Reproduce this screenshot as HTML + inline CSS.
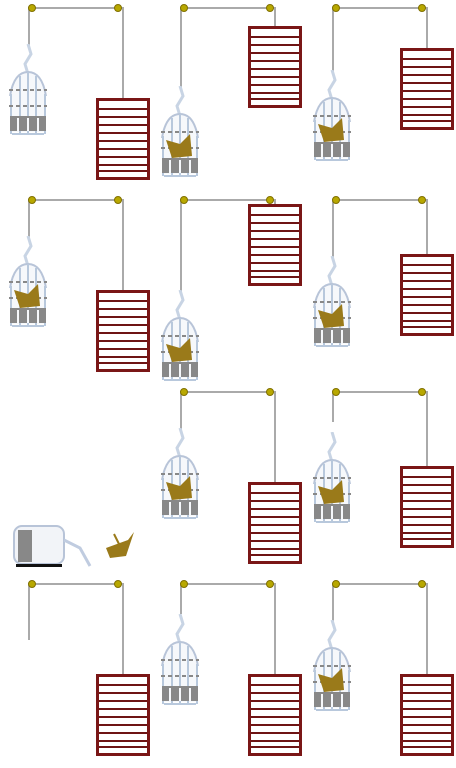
<!DOCTYPE html>
<html><head><style>html,body{margin:0;padding:0;background:#fff;width:456px;height:768px;overflow:hidden}</style></head>
<body>
<svg width="456" height="768" xmlns="http://www.w3.org/2000/svg">
<defs>
<symbol id="cage" viewBox="0 0 44 95" width="44" height="95">
 <path d="M22 0 L25 10 L19 20 L22 30" stroke="#c8d4e4" stroke-width="3" fill="none"/>
 <path d="M4 52 Q8 28 22 28 Q36 28 40 52" stroke="#b8c4d8" stroke-width="2" fill="#f6f8fb"/>
 <rect x="4" y="50" width="36" height="38" fill="#f6f8fb"/>
 <g stroke="#b8c8dc" stroke-width="2">
  <line x1="5" y1="50" x2="5" y2="90"/><line x1="14" y1="32" x2="14" y2="90"/><line x1="22" y1="28" x2="22" y2="90"/>
  <line x1="30" y1="32" x2="30" y2="90"/><line x1="39" y1="50" x2="39" y2="90"/>
 </g>
 <g stroke="#888" stroke-width="2" stroke-dasharray="4 3">
  <line x1="3" y1="46" x2="41" y2="46"/><line x1="3" y1="62" x2="41" y2="62"/>
 </g>
 <rect x="4" y="72" width="36" height="15" fill="#888"/>
 <g stroke="#f6f8fb" stroke-width="2"><line x1="12" y1="74" x2="12" y2="87"/><line x1="22" y1="74" x2="22" y2="87"/><line x1="32" y1="74" x2="32" y2="87"/></g>
 <rect x="6" y="89" width="32" height="2" fill="#b8c8dc"/>
</symbol>
<symbol id="bird" viewBox="0 0 44 95" width="44" height="95">
 <use href="#cage"/>
 <path d="M8 54 L22 58 L32 48 L34 70 L14 72 Z" fill="#9a7a1a"/>
</symbol>
<symbol id="box" viewBox="0 0 54 82" width="54" height="82">
 <rect x="1.5" y="1.5" width="51" height="79" fill="#fff" stroke="#7a1616" stroke-width="3"/>
 <g fill="#6e1414">
  <rect x="3" y="10" width="48" height="2"/><rect x="3" y="18" width="48" height="2"/>
  <rect x="3" y="26" width="48" height="2"/><rect x="3" y="34" width="48" height="2"/>
  <rect x="3" y="42" width="48" height="2"/><rect x="3" y="50" width="48" height="2"/>
  <rect x="3" y="58" width="48" height="2"/><rect x="3" y="66" width="48" height="2"/>
  <rect x="3" y="72" width="48" height="2"/>
 </g>
</symbol>
</defs>
<g stroke="#aaa" stroke-width="2" fill="none">
 <path d="M29 46 V8 H123 V100"/><path d="M181 88 V8 H275 V28"/><path d="M333 72 V8 H427 V50"/>
 <path d="M29 238 V200 H123 V292"/><path d="M181 292 V200 H275 V206"/><path d="M333 258 V200 H427 V256"/>
 <path d="M181 430 V392 H275 V484"/><path d="M333 422 V392 H427 V468"/>
 <path d="M29 640 V584 H123 V676"/><path d="M181 614 V584 H275 V676"/><path d="M333 622 V584 H427 V676"/>
</g>
<g fill="#b8a800" stroke="#807000" stroke-width="1">
 <circle cx="32" cy="8" r="3.5"/><circle cx="118" cy="8" r="3.5"/><circle cx="184" cy="8" r="3.5"/><circle cx="270" cy="8" r="3.5"/><circle cx="336" cy="8" r="3.5"/><circle cx="422" cy="8" r="3.5"/>
 <circle cx="32" cy="200" r="3.5"/><circle cx="118" cy="200" r="3.5"/><circle cx="184" cy="200" r="3.5"/><circle cx="270" cy="200" r="3.5"/><circle cx="336" cy="200" r="3.5"/><circle cx="422" cy="200" r="3.5"/>
 <circle cx="184" cy="392" r="3.5"/><circle cx="270" cy="392" r="3.5"/><circle cx="336" cy="392" r="3.5"/><circle cx="422" cy="392" r="3.5"/>
 <circle cx="32" cy="584" r="3.5"/><circle cx="118" cy="584" r="3.5"/><circle cx="184" cy="584" r="3.5"/><circle cx="270" cy="584" r="3.5"/><circle cx="336" cy="584" r="3.5"/><circle cx="422" cy="584" r="3.5"/>
</g>
<use href="#box" x="96" y="98"/><use href="#box" x="248" y="26"/><use href="#box" x="400" y="48"/>
<use href="#box" x="96" y="290"/><use href="#box" x="248" y="204"/><use href="#box" x="400" y="254"/>
<use href="#box" x="248" y="482"/><use href="#box" x="400" y="466"/>
<use href="#box" x="96" y="674"/><use href="#box" x="248" y="674"/><use href="#box" x="400" y="674"/>
<use href="#cage" x="6" y="44"/><use href="#bird" x="158" y="86"/><use href="#bird" x="310" y="70"/>
<use href="#bird" x="6" y="236"/><use href="#bird" x="158" y="290"/><use href="#bird" x="310" y="256"/>
<use href="#bird" x="158" y="428"/><use href="#bird" x="310" y="432"/>
<use href="#cage" x="158" y="614"/><use href="#bird" x="310" y="620"/>
<g>
 <rect x="14" y="526" width="50" height="38" rx="8" fill="#f2f4f8" stroke="#b8c4d8" stroke-width="2"/>
 <rect x="18" y="530" width="14" height="32" fill="#888"/>
 <path d="M64 540 L80 548 L90 566" stroke="#c0cce0" stroke-width="3" fill="none"/>
 <rect x="16" y="564" width="46" height="3" fill="#111"/>
 <path d="M106 548 L128 540 L134 532 L126 556 L110 558 Z" fill="#9a7a1a"/>
 <path d="M114 534 L120 546" stroke="#9a7a1a" stroke-width="2"/>
</g>
</svg>
</body></html>
